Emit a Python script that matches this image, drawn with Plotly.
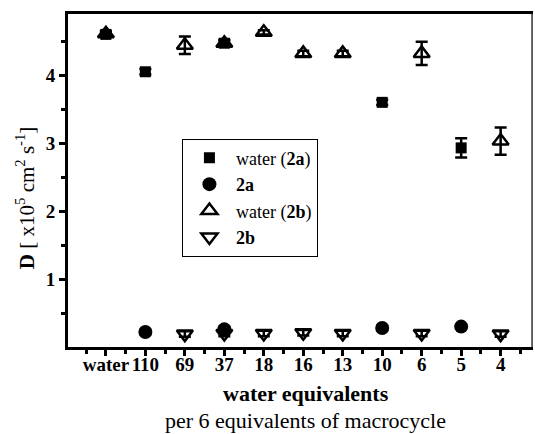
import plotly.graph_objects as go

categories = ["water", "110", "69", "37", "18", "16", "13", "10", "6", "5", "4"]
water_2a = [4.60, 4.05, None, 4.47, None, None, None, 3.60, None, 2.93, None]
water_2a_err = [0.04, 0.04, 0, 0.05, 0, 0, 0, 0.04, 0, 0.14, 0]
d_2a = [None, 0.22, None, 0.26, None, None, None, 0.28, None, 0.30, None]
d_2a_err = [0, 0.03, 0, 0.04, 0, 0, 0, 0.03, 0, 0.03, 0]
water_2b = [4.61, None, 4.44, 4.47, 4.63, 4.32, 4.32, None, 4.32, None, 3.03]
water_2b_err = [0.04, 0, 0.13, 0.04, 0.03, 0.04, 0.04, 0, 0.17, 0, 0.2]
d_2b = [None, None, 0.19, 0.20, 0.20, 0.21, 0.20, None, 0.20, None, 0.19]
d_2b_err = [0, 0, 0.04, 0.04, 0.04, 0.04, 0.04, 0, 0.04, 0, 0.04]

x = list(range(len(categories)))
FONT = "Liberation Serif, Times New Roman, serif"

def eb(arr):
    return dict(type="data", array=arr, visible=True, color="black", thickness=2.5, width=6)

fig = go.Figure()
fig.add_trace(go.Scatter(x=x, y=water_2a, mode="markers", name="water (<b>2a</b>)",
                         marker=dict(symbol="square", size=11, color="black"),
                         error_y=eb(water_2a_err)))
fig.add_trace(go.Scatter(x=x, y=d_2a, mode="markers", name="<b>2a</b>",
                         marker=dict(symbol="circle", size=14, color="black"),
                         error_y=eb(d_2a_err)))
fig.add_trace(go.Scatter(x=x, y=water_2b, mode="markers", name="water (<b>2b</b>)",
                         marker=dict(symbol="triangle-up-open", size=14, color="black",
                                     line=dict(width=2.5, color="black")),
                         error_y=eb(water_2b_err)))
fig.add_trace(go.Scatter(x=x, y=d_2b, mode="markers", name="<b>2b</b>",
                         marker=dict(symbol="triangle-down-open", size=14, color="black",
                                     line=dict(width=2.5, color="black")),
                         error_y=eb(d_2b_err)))

fig.update_layout(
    width=535, height=434,
    margin=dict(l=68, r=2, t=14, b=87, autoexpand=False),
    paper_bgcolor="white", plot_bgcolor="white",
    font=dict(family=FONT, color="black", size=18),
    showlegend=True,
    legend=dict(x=0.245, y=0.626, xanchor="left", yanchor="top",
                bordercolor="black", borderwidth=1, bgcolor="white",
                font=dict(family=FONT, size=18),
                itemwidth=43),
    xaxis=dict(range=[-0.96, 10.82], tickmode="array", tickvals=x, ticktext=categories,
               automargin=False, mirror=True,
               showgrid=False, zeroline=False, showline=True, linecolor="black", linewidth=3,
               ticks="outside", ticklen=6, tickwidth=2.5, tickcolor="black",
               ticklabelstandoff=-8,
               tickfont=dict(family=FONT, size=19, weight="bold"),
               minor=dict(tickmode="array", tickvals=[i - 0.5 for i in range(12)],
                          ticks="outside", ticklen=4, tickwidth=2.5, tickcolor="black")),
    yaxis=dict(range=[0, 4.9], tickmode="array", tickvals=[1, 2, 3, 4],
               automargin=False,
               showgrid=False, zeroline=False, showline=True, linecolor="black", linewidth=3,
               ticks="outside", ticklen=6, tickwidth=2.5, tickcolor="black",
               tickfont=dict(family=FONT, size=19, weight="bold"),
               minor=dict(tickmode="array", tickvals=[0.5, 1.5, 2.5, 3.5, 4.5],
                          ticks="outside", ticklen=4, tickwidth=2.5, tickcolor="black")),
    shapes=[
        dict(type="line", xref="x domain", yref="y domain", x0=0.998, x1=0.998, y0=0, y1=1,
             line=dict(color="#333", width=1.5), layer="above"),
    ],
    annotations=[
        dict(text="<b>water equivalents</b>", xref="paper", yref="paper",
             x=0.512, y=-0.14, xanchor="center", yanchor="middle", showarrow=False,
             font=dict(family=FONT, size=22)),
        dict(text="per 6 equivalents of macrocycle", xref="paper", yref="paper",
             x=0.51, y=-0.222, xanchor="center", yanchor="middle", showarrow=False,
             font=dict(family=FONT, size=22)),
        dict(text="<b>D</b> [ x10<sup>5</sup> cm<sup>2</sup> s<sup>-1</sup>]",
             xref="paper", yref="paper", x=-0.0925, y=0.447, xanchor="center", yanchor="middle",
             textangle=-90, showarrow=False, font=dict(family=FONT, size=21)),
    ],
)

fig.write_html("out.html", config={"displayModeBar": False})
with open("out.html", "r", encoding="utf-8") as f:
    html = f.read()
html = html.replace("<head>", "<head><style>html,body{margin:0;padding:0;}</style>", 1)
with open("out.html", "w", encoding="utf-8") as f:
    f.write(html)
